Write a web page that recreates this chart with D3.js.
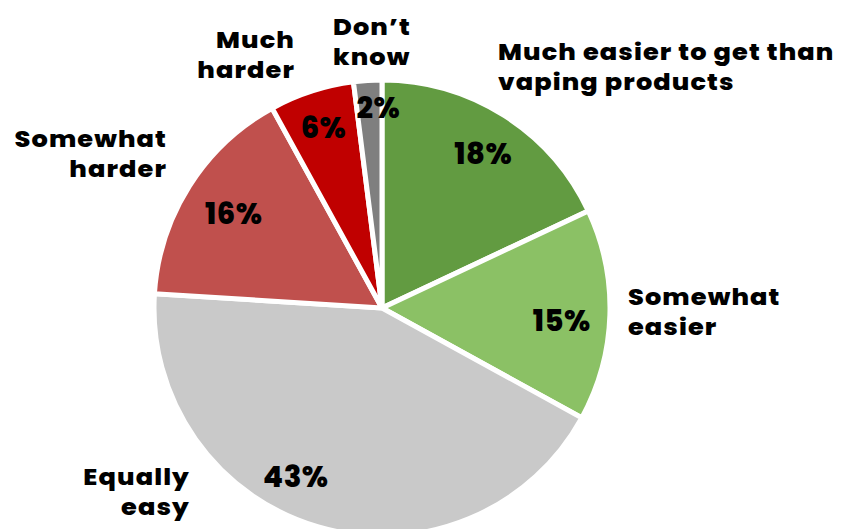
<!DOCTYPE html>
<html>
<head>
<meta charset="utf-8">
<script src="https://cdn.jsdelivr.net/npm/d3@7"></script>
<style>
  html, body { margin: 0; padding: 0; background: #fff; }
  svg { display: block; }
  text { font-family: Poppins, Inter, "Open Sans", sans-serif; font-weight: 800; fill: #000; }
</style>
</head>
<body>
<svg id="chart" width="841" height="529"></svg>
<script>
// ---- data ----
const categories = ["Much easier to get than vaping products", "Somewhat easier", "Equally easy", "Somewhat harder", "Much harder", "Don\u2019t know"];
const values = [18, 15, 43, 16, 6, 2];
const colors = ["#629b41", "#8bc165", "#c9c9c9", "#c0504d", "#c00000", "#7f7f7f"];
const labelLines = [
  ["Much easier to get than", "vaping products"],
  ["Somewhat", "easier"],
  ["Equally", "easy"],
  ["Somewhat", "harder"],
  ["Much", "harder"],
  ["Don\u2019t", "know"]
];

// ---- layout ----
const W = 841, H = 529;
const cx = 382, cy = 308, R = 228;
const pctRadius = [0.81, 0.79, 0.83, 0.77, 0.83, 0.88];
const pctAngleShift = [0.015, 0.04, 0.19, 0.0, 0.0, 0.045];
const catPos = [
  {x: 498, y: 59.5, anchor: "start"},
  {x: 628, y: 304.5, anchor: "start"},
  {x: 190, y: 484.5, anchor: "end"},
  {x: 167, y: 146.5, anchor: "end"},
  {x: 295, y: 47.5, anchor: "end"},
  {x: 333, y: 34.5, anchor: "start"}
];
const lineGap = 30;
const catFont = 23.5, catStretch = 1.09;

const svg = d3.select("#chart");
const g = svg.append("g").attr("transform", `translate(${cx},${cy})`);

const pie = d3.pie().sort(null).value(d => d);
const arcs = pie(values);
const arc = d3.arc().innerRadius(0).outerRadius(R);

g.selectAll("path.slice")
  .data(arcs)
  .join("path")
  .attr("class", "slice")
  .attr("d", arc)
  .attr("fill", (d, i) => colors[i])
  .attr("stroke", "#fff")
  .attr("stroke-width", 5)
  .attr("stroke-linejoin", "miter");

// percent labels
g.selectAll("text.pct")
  .data(arcs)
  .join("text")
  .attr("class", "pct")
  .attr("text-anchor", "middle")
  .attr("dy", "0.36em")
  .attr("font-size", 29)
  .attr("letter-spacing", 0.5)
  .attr("transform", (d, i) => {
    const a = (d.startAngle + d.endAngle) / 2 + pctAngleShift[i];
    const r = R * pctRadius[i];
    return `translate(${r * Math.sin(a)},${-r * Math.cos(a)})`;
  })
  .text(d => d.data + "%");

// category labels: one text per line
categories.forEach((c, i) => {
  labelLines[i].forEach((ln, j) => {
    svg.append("text")
      .attr("class", "cat")
      .attr("transform", `translate(${catPos[i].x},${catPos[i].y + j * lineGap}) scale(${catStretch},1)`)
      .attr("text-anchor", catPos[i].anchor)
      .attr("font-size", catFont)
      .attr("letter-spacing", 1)
      .text(ln);
  });
});
</script>
</body>
</html>
